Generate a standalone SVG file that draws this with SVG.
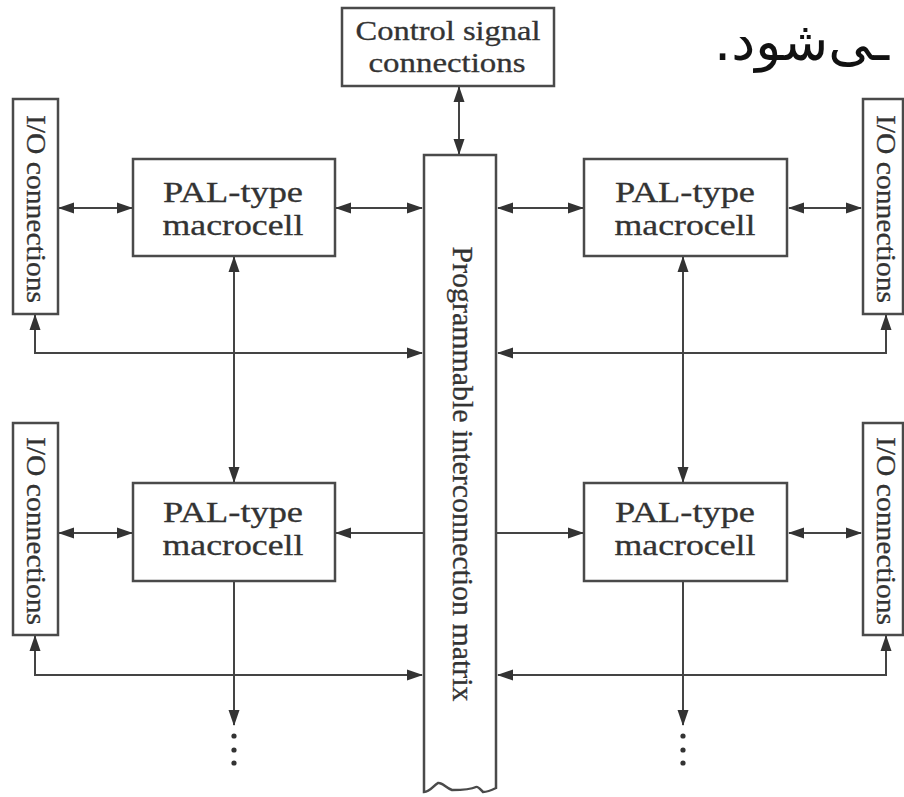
<svg xmlns="http://www.w3.org/2000/svg" width="904" height="797" viewBox="0 0 904 797">
<style>
.box{fill:#fff;stroke:#4a4a4a;stroke-width:2.5}
.t{font-family:"Liberation Serif","Times New Roman",serif;fill:#333;stroke:#333;stroke-width:0.3;text-anchor:middle}
.ln{fill:none;stroke:#444;stroke-width:2}
.a2{marker-start:url(#ah);marker-end:url(#ah)}
.a1{marker-end:url(#ah)}
.dot{fill:#333}
</style>
<defs>
<marker id="ah" markerUnits="userSpaceOnUse" markerWidth="16" markerHeight="12" viewBox="0 0 16 12" refX="15" refY="6" orient="auto-start-reverse">
<path d="M0,0.5 L16,6 L0,11.5 Z" fill="#333"/>
</marker>
</defs>
<rect width="904" height="797" fill="#fff"/>
<text x="714" y="60" direction="rtl" unicode-bidi="embed" text-anchor="end" font-family="'DejaVu Sans',sans-serif" font-size="54" fill="#111">ـی‌شود.</text>

<g id="connectors">
<path class="ln a2" d="M459,87 V154"/>
<path class="ln a2" d="M59,208 H132"/>
<path class="ln a2" d="M336,208 H422"/>
<path class="ln a2" d="M498,208 H583"/>
<path class="ln a2" d="M789,208 H861"/>
<path class="ln a2" d="M35,315 V353 H422"/>
<path class="ln a2" d="M886,315 V353 H498"/>
<path class="ln a2" d="M234,257 V482"/>
<path class="ln a2" d="M683,257 V482"/>
<path class="ln a2" d="M59,533 H132"/>
<path class="ln a1" d="M424,533 H336"/>
<path class="ln a1" d="M496,533 H583"/>
<path class="ln a2" d="M789,533 H861"/>
<path class="ln a2" d="M35,636 V675 H422"/>
<path class="ln a2" d="M886,636 V675 H498"/>
<path class="ln a1" d="M234,582 V725"/>
<path class="ln a1" d="M683,582 V725"/>
<circle class="dot" cx="234" cy="736" r="2.6"/>
<circle class="dot" cx="234" cy="750" r="2.6"/>
<circle class="dot" cx="234" cy="763" r="2.6"/>
<circle class="dot" cx="683" cy="736" r="2.6"/>
<circle class="dot" cx="683" cy="750" r="2.6"/>
<circle class="dot" cx="683" cy="763" r="2.6"/>
</g>

<g id="control">
<rect class="box" x="342" y="8" width="212" height="78"/>
<text class="t" x="448" y="40" font-size="27" textLength="185" lengthAdjust="spacingAndGlyphs">Control signal</text>
<text class="t" x="447" y="72" font-size="27" textLength="157" lengthAdjust="spacingAndGlyphs">connections</text>
</g>

<g id="matrix">
<path class="box" d="M424,155 H496 V788 C492,790 488,792 483,792 C480,789 478,786 476,787 C470,790 462,790 452,790 C446,788 442,782 438,783 C433,786 430,792 424,792 Z"/>
<text class="t" transform="translate(463,474) rotate(90)" font-size="29" dominant-baseline="central" textLength="455" lengthAdjust="spacingAndGlyphs">Programmable interconnection matrix</text>
</g>

<g id="io-tl">
<rect class="box" x="13" y="99" width="45" height="215"/>
<text class="t" transform="translate(36,209) rotate(90)" font-size="28" dominant-baseline="central" textLength="188" lengthAdjust="spacingAndGlyphs">I/O connections</text>
</g>
<g id="io-bl">
<rect class="box" x="13" y="423" width="45" height="212"/>
<text class="t" transform="translate(36,531) rotate(90)" font-size="28" dominant-baseline="central" textLength="188" lengthAdjust="spacingAndGlyphs">I/O connections</text>
</g>
<g id="io-tr">
<rect class="box" x="863" y="99" width="40" height="215"/>
<text class="t" transform="translate(886,209) rotate(90)" font-size="28" dominant-baseline="central" textLength="188" lengthAdjust="spacingAndGlyphs">I/O connections</text>
</g>
<g id="io-br">
<rect class="box" x="863" y="423" width="40" height="212"/>
<text class="t" transform="translate(886,531) rotate(90)" font-size="28" dominant-baseline="central" textLength="188" lengthAdjust="spacingAndGlyphs">I/O connections</text>
</g>

<g id="pal-tl">
<rect class="box" x="133" y="159" width="202" height="97"/>
<text class="t" x="233" y="202" font-size="30" textLength="140" lengthAdjust="spacingAndGlyphs">PAL-type</text>
<text class="t" x="233" y="235" font-size="30" textLength="141" lengthAdjust="spacingAndGlyphs">macrocell</text>
</g>
<g id="pal-tr">
<rect class="box" x="584" y="159" width="203" height="97"/>
<text class="t" x="685" y="202" font-size="30" textLength="140" lengthAdjust="spacingAndGlyphs">PAL-type</text>
<text class="t" x="685" y="235" font-size="30" textLength="141" lengthAdjust="spacingAndGlyphs">macrocell</text>
</g>
<g id="pal-bl">
<rect class="box" x="133" y="483" width="202" height="98"/>
<text class="t" x="233" y="522" font-size="30" textLength="140" lengthAdjust="spacingAndGlyphs">PAL-type</text>
<text class="t" x="233" y="555" font-size="30" textLength="141" lengthAdjust="spacingAndGlyphs">macrocell</text>
</g>
<g id="pal-br">
<rect class="box" x="584" y="483" width="203" height="98"/>
<text class="t" x="685" y="522" font-size="30" textLength="140" lengthAdjust="spacingAndGlyphs">PAL-type</text>
<text class="t" x="685" y="555" font-size="30" textLength="141" lengthAdjust="spacingAndGlyphs">macrocell</text>
</g>
</svg>
